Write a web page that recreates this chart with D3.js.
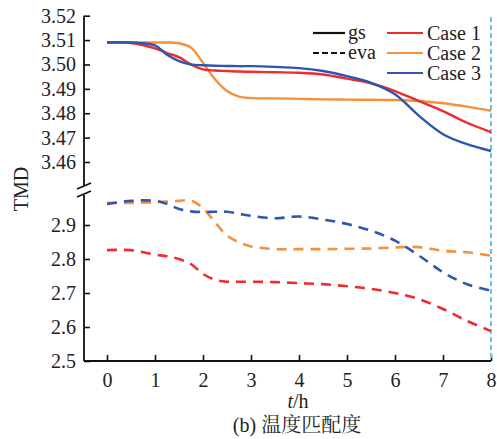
<!DOCTYPE html>
<html>
<head>
<meta charset="utf-8">
<script src="https://cdn.jsdelivr.net/npm/d3@7"></script>
<style>
  body { margin: 0; background: #fff; }
  svg text { font-family: "Liberation Serif", "Times New Roman", serif; fill: #222; }
</style>
</head>
<body>
<div id="chart"></div>
<script>
/** time axis (h) */
let hours = [0, 0.5, 1, 1.25, 1.5, 1.75, 2, 2.25, 2.5, 2.75, 3, 3.5, 4, 4.5, 5, 5.5, 6, 6.5, 7, 7.5, 8];
let xTicks = [0, 1, 2, 3, 4, 5, 6, 7, 8];
let upperTicks = [3.46, 3.47, 3.48, 3.49, 3.50, 3.51, 3.52];
let lowerTicks = [2.5, 2.6, 2.7, 2.8, 2.9];

/** gs (solid) series, upper panel */
let gsCase1 = [3.5090, 3.5088, 3.5066, 3.5047, 3.5030, 3.5000, 3.4980, 3.4975, 3.4973, 3.4971, 3.4970, 3.4968, 3.4966, 3.4959, 3.4942, 3.4923, 3.4891, 3.4850, 3.4809, 3.4761, 3.4723];
let gsCase2 = [3.5090, 3.5090, 3.5090, 3.5090, 3.5087, 3.5069, 3.5007, 3.4939, 3.4891, 3.4868, 3.4862, 3.4861, 3.4859, 3.4857, 3.4856, 3.4855, 3.4854, 3.4850, 3.4841, 3.4827, 3.4810];
let gsCase3 = [3.5090, 3.5090, 3.5078, 3.5040, 3.5014, 3.5000, 3.4997, 3.4995, 3.4994, 3.4993, 3.4993, 3.4990, 3.4985, 3.4973, 3.4952, 3.4925, 3.4878, 3.4789, 3.4714, 3.4673, 3.4645];

/** eva (dashed) series, lower panel */
let evaCase1 = [2.826, 2.826, 2.813, 2.808, 2.800, 2.785, 2.756, 2.739, 2.733, 2.733, 2.733, 2.732, 2.729, 2.726, 2.720, 2.712, 2.700, 2.682, 2.653, 2.618, 2.588];
let evaCase2 = [2.965, 2.965, 2.967, 2.969, 2.971, 2.972, 2.949, 2.908, 2.869, 2.849, 2.837, 2.829, 2.829, 2.829, 2.830, 2.831, 2.834, 2.835, 2.824, 2.820, 2.810];
let evaCase3 = [2.962, 2.971, 2.971, 2.962, 2.947, 2.940, 2.938, 2.939, 2.939, 2.933, 2.927, 2.920, 2.925, 2.916, 2.903, 2.883, 2.854, 2.810, 2.761, 2.726, 2.707];

let caseNames = ['Case 1', 'Case 2', 'Case 3'];
let caseColors = ['#ee2b2e', '#f6903a', '#2e55b2'];

let width = 497;
let height = 439;

let svg = d3.select('#chart')
  .append('svg')
  .attr('width', width)
  .attr('height', height);

/** scales */
let x = d3.scaleLinear().domain([0, 8]).range([107, 491]);
let yTop = d3.scaleLinear().domain([3.46, 3.52]).range([162, 15.7]);
let yBot = d3.scaleLinear().domain([2.5, 2.9]).range([361, 225]);

let axisX = 84;

/** y axes, split with a break */
let gTop = svg.append('g').attr('transform', `translate(${axisX},0)`)
  .call(d3.axisLeft(yTop).tickValues(upperTicks).tickFormat(d3.format('.2f')).tickSizeInner(-6).tickSizeOuter(0).tickPadding(8));
let gBot = svg.append('g').attr('transform', `translate(${axisX},0)`)
  .call(d3.axisLeft(yBot).tickValues(lowerTicks).tickFormat(d3.format('.1f')).tickSizeInner(-6).tickSizeOuter(0).tickPadding(8));
let gX = svg.append('g').attr('transform', `translate(0,${yBot(2.5)})`)
  .call(d3.axisBottom(x).tickValues(xTicks).tickSizeInner(-6).tickSizeOuter(0).tickPadding(12));

[gTop, gBot, gX].forEach(g => {
  g.selectAll('path.domain').remove();
  g.selectAll('.tick line').attr('stroke', '#111').attr('stroke-width', 1.6);
  g.selectAll('.tick text').style('font-size', '20px').attr('fill', '#222');
});

// axis lines drawn by hand so the break can be shown
svg.append('line').attr('x1', axisX).attr('x2', axisX).attr('y1', yTop(3.52)).attr('y2', 186)
  .attr('stroke', '#111').attr('stroke-width', 1.8);
svg.append('line').attr('x1', axisX).attr('x2', axisX).attr('y1', 195).attr('y2', yBot(2.5))
  .attr('stroke', '#111').attr('stroke-width', 1.8);
svg.append('line').attr('x1', axisX).attr('x2', x(8)).attr('y1', yBot(2.5)).attr('y2', yBot(2.5))
  .attr('stroke', '#111').attr('stroke-width', 1.8);
[189, 197].forEach(yy => {
  svg.append('line').attr('x1', axisX - 7).attr('x2', axisX + 7).attr('y1', yy).attr('y2', yy - 6)
    .attr('stroke', '#111').attr('stroke-width', 1.6);
});

/** cyan marker at t = 8 */
svg.append('line')
  .attr('x1', x(8)).attr('x2', x(8))
  .attr('y1', 17).attr('y2', yBot(2.5))
  .attr('stroke', '#5cc6ef').attr('stroke-width', 2)
  .attr('stroke-dasharray', '5,3');

/** curves */
let lineTop = d3.line().x((d, i) => x(hours[i])).y(d => yTop(d)).curve(d3.curveCatmullRom.alpha(0.5));
let lineBot = d3.line().x((d, i) => x(hours[i])).y(d => yBot(d)).curve(d3.curveCatmullRom.alpha(0.5));

[evaCase1, evaCase2, evaCase3].forEach((s, i) => {
  svg.append('path').datum(s)
    .attr('d', lineBot)
    .attr('fill', 'none')
    .attr('stroke', caseColors[i])
    .attr('stroke-width', 2.6)
    .attr('stroke-dasharray', '10,7');
});

[gsCase2, gsCase1, gsCase3].forEach((s, k) => {
  let i = [1, 0, 2][k];
  svg.append('path').datum(s)
    .attr('d', lineTop)
    .attr('fill', 'none')
    .attr('stroke', caseColors[i])
    .attr('stroke-width', 2.4);
});

/** legend */
let legStyle = [{ name: 'gs', dash: null }, { name: 'eva', dash: '6,3' }];
legStyle.forEach((d, i) => {
  let yy = 33 + i * 20;
  svg.append('line').attr('x1', 313).attr('x2', 345).attr('y1', yy).attr('y2', yy)
    .attr('stroke', '#111').attr('stroke-width', 2.2)
    .attr('stroke-dasharray', d.dash);
  svg.append('text').attr('x', 348).attr('y', yy + 6).style('font-size', '20px').text(d.name);
});
caseNames.forEach((name, i) => {
  let yy = 33 + i * 20;
  svg.append('line').attr('x1', 387).attr('x2', 423).attr('y1', yy).attr('y2', yy)
    .attr('stroke', caseColors[i]).attr('stroke-width', 2.2);
  svg.append('text').attr('x', 427).attr('y', yy + 6.5).style('font-size', '20px').text(name);
});

/** axis titles */
svg.append('text')
  .attr('transform', 'translate(28,189) rotate(-90)')
  .attr('text-anchor', 'middle')
  .style('font-size', '20px')
  .text('TMD');

let xt = svg.append('text')
  .attr('x', 298).attr('y', 408)
  .attr('text-anchor', 'middle')
  .style('font-size', '20px');
xt.append('tspan').style('font-style', 'italic').text('t');
xt.append('tspan').text('/h');

svg.append('text')
  .attr('x', 297).attr('y', 432)
  .attr('text-anchor', 'middle')
  .style('font-size', '20px')
  .style('font-family', '"Liberation Serif", "Noto Serif CJK SC", "Noto Sans CJK SC", serif')
  .text('(b) 温度匹配度');
</script>
</body>
</html>
